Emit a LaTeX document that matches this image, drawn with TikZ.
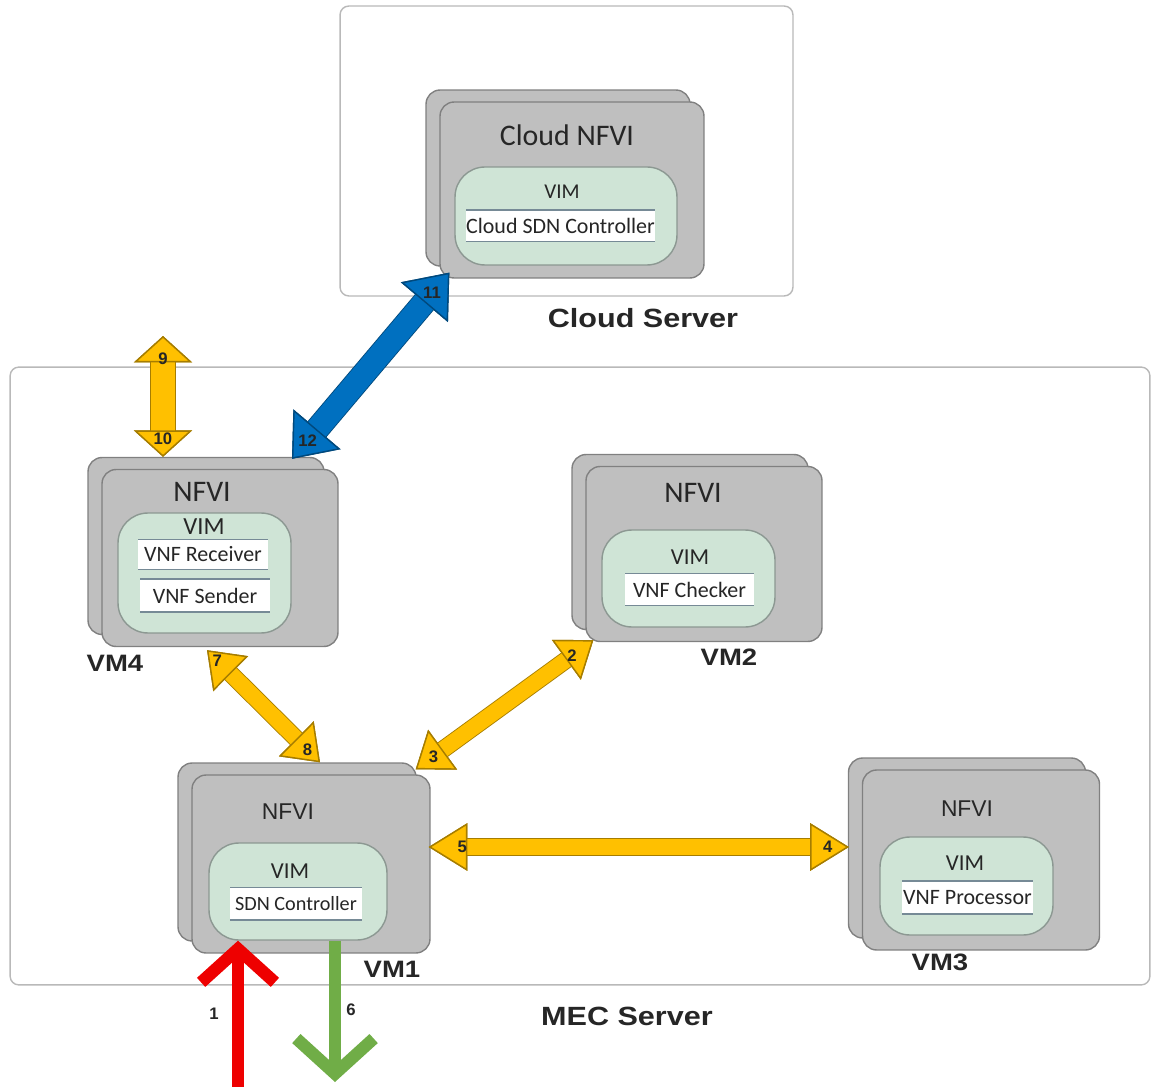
\documentclass[tikz,border=0pt]{standalone}
\usepackage{fontspec}
\setmainfont{Carlito}
\newfontfamily\boldsans[FakeStretch=1.16]{Liberation Sans}
\newfontfamily\armfont{Liberation Sans}
\usepackage{tikz}
\usetikzlibrary{arrows.meta,positioning,shadows,calc}
\definecolor{cardgray}{RGB}{191,191,191}
\definecolor{cardedge}{RGB}{128,128,128}
\definecolor{vimgreen}{RGB}{207,228,214}
\definecolor{vimedge}{RGB}{140,152,146}
\definecolor{stripline}{RGB}{118,138,150}
\definecolor{boxedge}{RGB}{185,185,185}
\definecolor{linkorange}{RGB}{255,192,0}
\definecolor{cloudblue}{RGB}{0,112,192}
\definecolor{inred}{RGB}{238,0,0}
\definecolor{outgreen}{RGB}{112,173,71}
\tikzset{
 server/.style={
 rectangle,
 rounded corners=5pt,
 draw=boxedge,
 line width=0.8pt
 },
 servername/.style={
 font=\boldsans\bfseries\fontsize{15}{18}\selectfont,
 text=black!85
 },
 nfvicard/.style={
 rectangle,
 rounded corners=8pt,
 draw=cardedge,
 fill=cardgray,
 line width=0.8pt,
 copy shadow={shadow xshift=-0.28cm, shadow yshift=0.24cm}
 },
 cardtitle/.style={font=\fontsize{17}{20}\selectfont, text=black!85},
 cardtitlesm/.style={font=\armfont\fontsize{13}{15}\selectfont, text=black!85},
 vimbox/.style={
 rectangle,
 rounded corners=0.6cm,
 draw=vimedge,
 fill=vimgreen,
 line width=0.8pt
 },
 vimtext/.style={font=\fontsize{13}{15}\selectfont, text=black!85},
 vnfstrip/.style={
 rectangle,
 fill=white,
 inner sep=0pt,
 font=\fontsize{12.5}{15}\selectfont,
 text=black!85,
 path picture={
 \draw[stripline, line width=1.4pt]
 (path picture bounding box.north west) -- (path picture bounding box.north east)
 (path picture bounding box.south west) -- (path picture bounding box.south east);
 }
 },
 vmname/.style={font=\boldsans\bfseries\fontsize{13.5}{16}\selectfont, text=black!85},
 linknum/.style={font=\armfont\bfseries\fontsize{9.5}{11}\selectfont, text=black!85, inner sep=0pt},
 fatlink/.style n args={4}{
 draw=#1,
 line width=#2,
 preaction={draw=#1!65!black, line width=#2+1pt},
 arrows={Triangle[width=#3, length=#4, line width=0.8pt, color=#1!65!black, fill=#1]-Triangle[width=#3, length=#4, line width=0.8pt, color=#1!65!black, fill=#1]}
 },
 inlink/.style={draw=inred, line width=7pt, -{Straight Barb[length=19pt, width=42pt]}},
 outlink/.style={draw=outgreen, line width=7pt, -{Straight Barb[length=20pt, width=44pt]}}
}
\begin{document}
\begin{tikzpicture}[x=0.02cm, y=-0.02cm]
 \useasboundingbox (0,0) rectangle (1152,1087);
 % servers
 \node[server, minimum width=9.06cm, minimum height=5.8cm] (cloudsrv) at (566.5,151) {};
 \node[server, minimum width=22.8cm, minimum height=12.36cm] (mecsrv) at (580,676) {};
 \node[servername] (cloudname) at (643,318) {Cloud Server};
 \node[servername] (mecname) at (627,1016) {MEC Server};

 % cloud nfvi
 \node[nfvicard, minimum width=5.28cm, minimum height=3.52cm] (cloudnfvi) at (572,190) {};
 \node[cardtitle] (cloudtitle) at (567,135) {Cloud NFVI};
 \node[vimbox, minimum width=4.44cm, minimum height=1.96cm] (cloudvim) at (566,216) {};
 \node[vimtext, font=\fontsize{12}{14}\selectfont] (cloudvimlabel) at (562,192) {VIM};
 \node[vnfstrip, minimum width=3.3cm, minimum height=0.64cm] (cloudsdn) at (560.5,226) {Cloud SDN Controller};

 % vm4
 \node[nfvicard, minimum width=4.72cm, minimum height=3.54cm] (vmfour) at (220,558) {};
 \node[cardtitle] (vmfourtitle) at (202,492) {NFVI};
 \node[vimbox, minimum width=3.46cm, minimum height=2.4cm] (vmfourvim) at (204.5,573) {};
 \node[vimtext, font=\fontsize{14}{16}\selectfont] (vmfourvimlabel) at (204,527) {VIM};
 \node[vnfstrip, minimum width=2.6cm, minimum height=0.62cm] (vmfourrecv) at (203,554.5) {VNF Receiver};
 \node[vnfstrip, minimum width=2.6cm, minimum height=0.68cm] (vmfoursend) at (205,595.5) {VNF Sender};
 \node[vmname] (vmfourname) at (115,663) {VM4};

 % vm2
 \node[nfvicard, minimum width=4.72cm, minimum height=3.5cm] (vmtwo) at (704,554) {};
 \node[cardtitle] (vmtwotitle) at (693,493) {NFVI};
 \node[vimbox, minimum width=3.46cm, minimum height=1.94cm] (vmtwovim) at (688.5,578.5) {};
 \node[vimtext] (vmtwovimlabel) at (690,557) {VIM};
 \node[vnfstrip, minimum width=2.58cm, minimum height=0.66cm] (vmtwocheck) at (689.5,589.5) {VNF Checker};
 \node[vmname] (vmtwoname) at (729,657) {VM2};

 % vm1
 \node[nfvicard, minimum width=4.76cm, minimum height=3.56cm] (vmone) at (311,864) {};
 \node[cardtitlesm] (vmonetitle) at (288,812) {NFVI};
 \node[vimbox, minimum width=3.56cm, minimum height=1.94cm] (vmonevim) at (298,891.5) {};
 \node[vimtext] (vmonevimlabel) at (290,871) {VIM};
 \node[vnfstrip, minimum width=2.64cm, minimum height=0.66cm, font=\fontsize{11.5}{14}\selectfont] (vmonesdn) at (296,903.5) {SDN Controller};
 \node[vmname] (vmonename) at (392,969) {VM1};

 % vm3
 \node[nfvicard, minimum width=4.74cm, minimum height=3.6cm] (vmthree) at (981,860) {};
 \node[cardtitlesm] (vmthreetitle) at (967,809) {NFVI};
 \node[vimbox, minimum width=3.46cm, minimum height=1.96cm] (vmthreevim) at (966.5,886) {};
 \node[vimtext] (vmthreevimlabel) at (965,863) {VIM};
 \node[vnfstrip, minimum width=2.62cm, minimum height=0.68cm] (vmthreeproc) at (967.5,897.5) {VNF Processor};
 \node[vmname] (vmthreename) at (940,962) {VM3};

 % links
 \coordinate (uplinkend) at (163,336);
 \draw[fatlink={linkorange}{14pt}{33pt}{15pt}] (uplinkend) -- ($(vmfour.north -| uplinkend)+(0,-12)$)
 node[linknum, pos=0.19] {9} node[linknum, pos=0.85] {10};
 \draw[fatlink={cloudblue}{13pt}{35pt}{22pt}] ($(cloudnfvi.south west)+(10,-6)$) -- ($(vmfour.north)+(72,-10)$)
 node[linknum, pos=0.11] {11} node[linknum, pos=0.9] {12};
 \draw[fatlink={linkorange}{9pt}{28pt}{19pt}] ($(vmfour.south)+(-13,3)$) -- ($(vmone.north)+(9,-12)$)
 node[linknum, pos=0.09] {7} node[linknum, pos=0.89] {8};
 \draw[fatlink={linkorange}{9pt}{28pt}{19pt}] ($(vmtwo.south west)+(8,-2)$) -- ($(vmone.north east)+(-15,-5)$)
 node[linknum, pos=0.12] {2} node[linknum, pos=0.9] {3};
 \draw[fatlink={linkorange}{9pt}{27pt}{22pt}] ($(vmone.east)+(-2,-17)$) -- ($(vmthree.west)+(-13,-13)$)
 node[linknum, pos=0.08] {5} node[linknum, pos=0.95] {4};

 % flow in and out of vm1
 \coordinate (flowin) at (238,1087);
 \coordinate (flowout) at (335,1082);
 \draw[inlink] (flowin) -- (vmonevim.south -| flowin)
 node[linknum, pos=0.5, xshift=-0.48cm] {1};
 \draw[outlink] (vmonevim.south -| flowout) -- (flowout)
 node[linknum, pos=0.49, xshift=0.32cm] {6};
\end{tikzpicture}
\end{document}
